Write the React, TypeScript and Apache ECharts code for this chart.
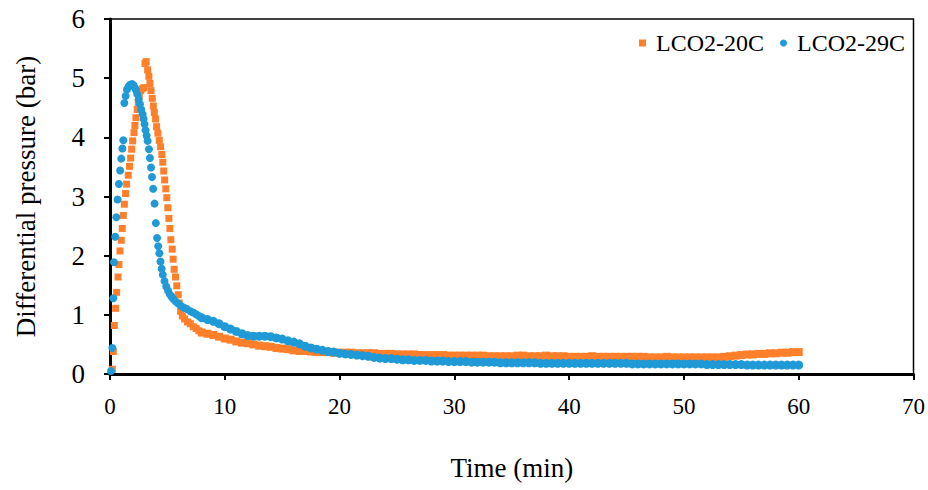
import React, { useEffect, useRef } from "react";
import * as echarts from "echarts";

const FONT = "'Liberation Serif', 'Times New Roman', serif";

const seriesNames = ["LCO2-20C", "LCO2-29C"];
const xTickValues = [0, 10, 20, 30, 40, 50, 60, 70];
const yTickValues = [0, 1, 2, 3, 4, 5, 6];

// LCO2-20C : [time (min), differential pressure (bar)]
const lco2_20C_peak: [number, number][] = [
  [0.2, 0.08], [0.29, 0.38], [0.38, 0.82], [0.49, 1.11], [0.58, 1.38], [0.7, 1.64],
  [0.78, 1.85], [0.87, 2.08], [0.98, 2.26], [1.07, 2.46], [1.16, 2.68], [1.25, 2.87],
  [1.36, 3.05], [1.45, 3.21], [1.59, 3.36], [1.7, 3.51], [1.8, 3.65], [1.89, 3.8],
  [1.97, 3.94], [2.09, 4.08], [2.17, 4.2], [2.26, 4.33], [2.37, 4.47], [2.46, 4.59],
  [2.55, 4.7], [2.67, 4.79], [2.81, 4.82], [2.95, 4.84], [3.05, 5.25], [3.15, 5.28],
  [3.28, 5.14], [3.39, 5.03], [3.48, 4.91], [3.57, 4.79], [3.68, 4.66], [3.77, 4.53],
  [3.86, 4.42], [3.97, 4.31], [4.06, 4.18], [4.17, 4.07], [4.29, 3.95], [4.41, 3.84],
  [4.52, 3.71], [4.6, 3.58], [4.68, 3.43], [4.76, 3.28], [4.86, 3.13], [4.95, 2.98],
  [5.04, 2.81], [5.13, 2.63], [5.22, 2.46], [5.3, 2.27], [5.42, 2.11], [5.5, 1.94],
  [5.59, 1.77], [5.71, 1.64], [5.82, 1.49], [5.94, 1.34], [6.03, 1.2], [6.15, 1.06],
  [6.3, 0.98], [6.5, 0.93], [6.75, 0.88], [7.0, 0.85], [7.25, 0.8], [7.5, 0.77], [7.75, 0.73],
];
const lco2_20C_tail: [number, number][] = [
  [8, 0.7], [8.5, 0.68], [9, 0.66], [9.5, 0.63], [10, 0.6], [10.5, 0.58], [11, 0.55],
  [11.5, 0.53], [12, 0.52], [12.5, 0.5], [13, 0.48], [13.5, 0.47], [14, 0.46], [14.5, 0.44],
  [15, 0.43], [15.5, 0.42], [16, 0.4], [16.5, 0.39], [17, 0.39], [17.5, 0.38], [18, 0.37],
  [18.5, 0.37], [19, 0.37], [19.5, 0.36], [20, 0.36], [20.5, 0.36], [21, 0.36], [21.5, 0.35],
  [22, 0.35], [22.5, 0.35], [23, 0.35], [23.5, 0.34], [24, 0.34], [24.5, 0.34], [25, 0.33],
  [25.5, 0.33], [26, 0.33], [26.5, 0.33], [27, 0.32], [27.5, 0.32], [28, 0.32], [28.5, 0.32],
  [29, 0.32], [29.5, 0.31], [30, 0.31], [30.5, 0.31], [31, 0.31], [31.5, 0.31], [32, 0.31],
  [32.5, 0.31], [33, 0.3], [33.5, 0.3], [34, 0.3], [34.5, 0.3], [35, 0.3], [35.5, 0.31],
  [36, 0.31], [36.5, 0.3], [37, 0.3], [37.5, 0.3], [38, 0.31], [38.5, 0.3], [39, 0.3],
  [39.5, 0.3], [40, 0.29], [40.5, 0.29], [41, 0.29], [41.5, 0.29], [42, 0.3], [42.5, 0.29],
  [43, 0.29], [43.5, 0.29], [44, 0.29], [44.5, 0.29], [45, 0.29], [45.5, 0.29], [46, 0.29],
  [46.5, 0.29], [47, 0.28], [47.5, 0.28], [48, 0.28], [48.5, 0.29], [49, 0.28], [49.5, 0.28],
  [50, 0.28], [50.5, 0.28], [51, 0.28], [51.5, 0.28], [52, 0.28], [52.5, 0.28], [53, 0.28],
  [53.5, 0.29], [54, 0.3], [54.5, 0.31], [55, 0.32], [55.5, 0.33], [56, 0.33], [56.5, 0.34],
  [57, 0.34], [57.5, 0.35], [58, 0.35], [58.5, 0.36], [59, 0.36], [59.5, 0.37], [60, 0.37],
];

// LCO2-29C : [time (min), differential pressure (bar)]
const lco2_29C_peak: [number, number][] = [
  [0.09, 0.05], [0.2, 0.44], [0.29, 1.28], [0.35, 1.89], [0.45, 2.32], [0.55, 2.65],
  [0.66, 2.95], [0.78, 3.21], [0.88, 3.44], [0.98, 3.64], [1.08, 3.81], [1.16, 3.95],
  [1.25, 4.58], [1.36, 4.7], [1.48, 4.81], [1.62, 4.86], [1.76, 4.89], [1.92, 4.9],
  [2.05, 4.88], [2.16, 4.84], [2.26, 4.8], [2.37, 4.73], [2.5, 4.64], [2.61, 4.56],
  [2.72, 4.47], [2.84, 4.39], [2.93, 4.31], [3.01, 4.22], [3.1, 4.12], [3.19, 4.03],
  [3.28, 3.94], [3.39, 3.8], [3.48, 3.65], [3.57, 3.49], [3.66, 3.33], [3.76, 3.13],
  [3.88, 2.88], [3.99, 2.55], [4.1, 2.3], [4.2, 2.16], [4.3, 2.04], [4.4, 1.9],
  [4.5, 1.78], [4.6, 1.68], [4.75, 1.57], [4.9, 1.48], [5.05, 1.41], [5.2, 1.35],
  [5.35, 1.31], [5.5, 1.27], [5.7, 1.23], [5.95, 1.19], [6.2, 1.15], [6.45, 1.12],
  [6.7, 1.1], [7.0, 1.06], [7.25, 1.04], [7.5, 1.01], [7.75, 0.98],
];
const lco2_29C_tail: [number, number][] = [
  [8, 0.95], [8.5, 0.92], [9, 0.89], [9.5, 0.85], [10, 0.8], [10.5, 0.76], [11, 0.72],
  [11.5, 0.68], [12, 0.65], [12.5, 0.64], [13, 0.64], [13.5, 0.64], [14, 0.63], [14.5, 0.61],
  [15, 0.59], [15.5, 0.56], [16, 0.54], [16.5, 0.51], [17, 0.47], [17.5, 0.44], [18, 0.42],
  [18.5, 0.4], [19, 0.38], [19.5, 0.37], [20, 0.35], [20.5, 0.34], [21, 0.33], [21.5, 0.32],
  [22, 0.31], [22.5, 0.3], [23, 0.28], [23.5, 0.27], [24, 0.26], [24.5, 0.26], [25, 0.25],
  [25.5, 0.24], [26, 0.24], [26.5, 0.23], [27, 0.23], [27.5, 0.23], [28, 0.22], [28.5, 0.22],
  [29, 0.22], [29.5, 0.21], [30, 0.21], [30.5, 0.21], [31, 0.21], [31.5, 0.2], [32, 0.2],
  [32.5, 0.2], [33, 0.2], [33.5, 0.2], [34, 0.19], [34.5, 0.19], [35, 0.19], [35.5, 0.19],
  [36, 0.19], [36.5, 0.19], [37, 0.19], [37.5, 0.18], [38, 0.18], [38.5, 0.18], [39, 0.18],
  [39.5, 0.18], [40, 0.18], [40.5, 0.18], [41, 0.18], [41.5, 0.18], [42, 0.18], [42.5, 0.18],
  [43, 0.18], [43.5, 0.18], [44, 0.18], [44.5, 0.18], [45, 0.18], [45.5, 0.17], [46, 0.17],
  [46.5, 0.17], [47, 0.17], [47.5, 0.17], [48, 0.17], [48.5, 0.17], [49, 0.17], [49.5, 0.17],
  [50, 0.17], [50.5, 0.17], [51, 0.17], [51.5, 0.17], [52, 0.16], [52.5, 0.16], [53, 0.16],
  [53.5, 0.16], [54, 0.16], [54.5, 0.16], [55, 0.16], [55.5, 0.15], [56, 0.15], [56.5, 0.15],
  [57, 0.15], [57.5, 0.15], [58, 0.15], [58.5, 0.15], [59, 0.15], [59.5, 0.15], [60, 0.15],
];

const ORANGE = "#FF7F2A";
const BLUE = "#1F9AD6";

export default function App() {
  const ref = useRef<HTMLDivElement>(null);

  useEffect(() => {
    if (!ref.current) return;
    const chart = echarts.init(ref.current, undefined, { renderer: "svg" });
    const axisCommon = {
      type: "value" as const,
      nameLocation: "middle" as const,
      nameTextStyle: { fontSize: 27, color: "#000", fontFamily: FONT },
      axisLine: { show: true, onZero: false, lineStyle: { color: "#000", width: 3 } },
      axisTick: { show: true, inside: false, length: 6, lineStyle: { color: "#000", width: 2 } },
      splitLine: { show: false },
    };
    // denser band look in the slowly varying tail (markers overlap as in the original)
    const sizeOrange = (v: number[]) => (v[0] >= 7.9 ? 8 : 7);
    const sizeBlue = (v: number[]) => (v[0] >= 7.9 ? 9 : 8);
    chart.setOption({
      animation: false,
      backgroundColor: "#ffffff",
      textStyle: { fontFamily: FONT },
      grid: {
        left: 110,
        right: 13,
        top: 19,
        bottom: 116,
        show: true,
        borderColor: "#000",
        borderWidth: 1.5,
        backgroundColor: "transparent",
      },
      legend: {
        data: [
          { name: seriesNames[0], icon: "rect" },
          { name: seriesNames[1], icon: "circle" },
        ],
        top: 31,
        right: 23,
        padding: 0,
        itemWidth: 7,
        itemHeight: 7,
        itemGap: 16,
        textStyle: { fontSize: 24, color: "#000", fontFamily: FONT, padding: [0, 0, 0, 5] },
      },
      xAxis: {
        ...axisCommon,
        min: xTickValues[0],
        max: xTickValues[xTickValues.length - 1],
        interval: xTickValues[1] - xTickValues[0],
        name: "Time (min)",
        nameGap: 80,
        axisLabel: { fontSize: 23, color: "#000", margin: 21, fontFamily: FONT },
      },
      yAxis: {
        ...axisCommon,
        min: yTickValues[0],
        max: yTickValues[yTickValues.length - 1],
        interval: yTickValues[1] - yTickValues[0],
        name: "Differential pressure (bar)",
        nameGap: 71,
        axisLabel: { fontSize: 27, color: "#000", margin: 25, fontFamily: FONT },
      },
      series: [
        {
          name: seriesNames[0],
          type: "scatter",
          symbol: "rect",
          symbolSize: sizeOrange,
          itemStyle: { color: ORANGE, opacity: 1 },
          data: [...lco2_20C_peak, ...lco2_20C_tail],
          z: 2,
        },
        {
          name: seriesNames[1],
          type: "scatter",
          symbol: "circle",
          symbolSize: sizeBlue,
          itemStyle: { color: BLUE, opacity: 1 },
          data: [...lco2_29C_peak, ...lco2_29C_tail],
          z: 3,
        },
      ],
    });
    return () => chart.dispose();
  }, []);

  return (
    <div
      ref={ref}
      style={{ position: "fixed", left: 0, top: 0, width: 928, height: 490, background: "#fff" }}
    />
  );
}
